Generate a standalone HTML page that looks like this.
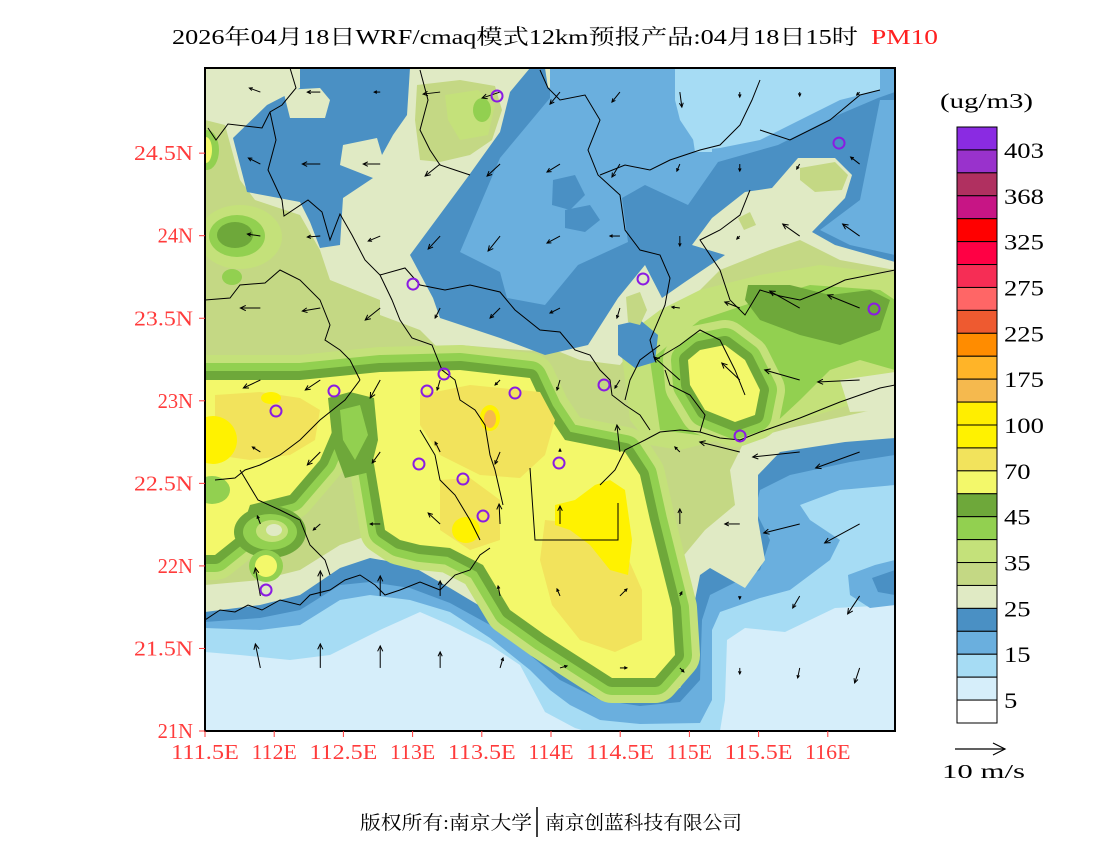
<!DOCTYPE html>
<html><head><meta charset="utf-8"><style>
html,body{margin:0;padding:0;background:#fff;}
svg{display:block;font-family:"Liberation Serif","Noto Serif CJK SC",serif;}
</style></head><body>
<svg id="chart" width="1100" height="850" viewBox="0 0 1100 850" xmlns="http://www.w3.org/2000/svg">
<defs><clipPath id="plotclip"><rect x="205" y="68" width="690" height="663"/></clipPath></defs>
<text x="172" y="44" font-size="21" textLength="686" lengthAdjust="spacingAndGlyphs" fill="#000">2026年04月18日WRF/cmaq模式12km预报产品:04月18日15时</text>
<text x="871" y="44" font-size="21" textLength="67" lengthAdjust="spacingAndGlyphs" fill="#ff2020">PM10</text>
<g id="map" clip-path="url(#plotclip)"></g>
<g id="overlay" clip-path="url(#plotclip)"></g>
<rect x="205" y="68" width="690" height="663" fill="none" stroke="#000" stroke-width="2"/>
<g id="axes"></g>
<g id="colorbar"></g>
<text x="940" y="108" font-size="21" textLength="93" lengthAdjust="spacingAndGlyphs">(ug/m3)</text>
<g>
<line x1="955" y1="749" x2="1005" y2="749" stroke="#000" stroke-width="1.2"/>
<polyline points="993,743 1005,749 993,755" fill="none" stroke="#000" stroke-width="1.2"/>
<text x="942" y="778" font-size="20" textLength="83" lengthAdjust="spacingAndGlyphs">10 m/s</text>
</g>
<text x="360" y="829" font-size="19" textLength="172" lengthAdjust="spacingAndGlyphs">版权所有:南京大学</text>
<line x1="537" y1="807" x2="537" y2="837" stroke="#000" stroke-width="1.5"/>
<text x="545" y="829" font-size="19" textLength="197" lengthAdjust="spacingAndGlyphs">南京创蓝科技有限公司</text>
</svg>
<script>
// ---- data ----
const cbLevels = ["", "403", "", "368", "", "325", "", "275", "", "225", "", "175", "", "100", "", "70", "", "45", "", "35", "", "25", "", "15", "", "5"];
const cbColors = ["#8a2be2","#9932cc","#b03060","#c71585","#ff0000","#ff0044","#f62d55","#ff6666","#ee5a30","#ff8c00","#ffb428","#f5b94e","#ffee00","#fff200","#f2e35c","#f3f86a","#6ea83a","#92d050","#c4e17a","#c4d884","#e0eac4","#4a90c4","#6aafde","#a6dcf4","#d6eefa","#ffffff"];
const lonTicks = [111.5,112,112.5,113,113.5,114,114.5,115,115.5,116];
const lonTickLabels = ["111.5E","112E","112.5E","113E","113.5E","114E","114.5E","115E","115.5E","116E"];
const latTicks = [21,21.5,22,22.5,23,23.5,24,24.5];
const latTickLabels = ["21N","21.5N","22N","22.5N","23N","23.5N","24N","24.5N"];
const stationLon = [113.610,116.081,113.003,114.665,116.334,112.432,112.013,113.104,113.227,113.740,114.383,113.046,113.364,114.058,113.509,111.941,115.366];
const stationLat = [24.846,24.561,23.707,23.738,23.556,23.059,22.938,23.059,23.162,23.047,23.096,22.617,22.526,22.623,22.302,21.854,22.787];
const windLon = [111.9,112.333,112.766,113.199,113.632,114.065,114.498,114.931,115.364,115.797,116.23];
const windLat = [24.87,24.434,23.998,23.562,23.126,22.69,22.254,21.818,21.382];
const windU = [
[-2.2,-2.6,-1.2,-3.4,-3.6,-2,-1.6,0.4,0,0,-0.6],
[-2.4,-3.6,-3.4,-3,-2.6,-2.6,-1.6,-0.6,0,-0.6,-1.8],
[-2.6,-2.6,-2.4,-2.4,-2.4,-2.6,-2,0,-0.6,-3.4,-3.4],
[-4,-3.6,-3,-1,-2,-2,-0.6,-1.6,-3,-6,-6.4],
[-3.4,-3,-2,-0.6,-1,-0.6,-1,-5.2,-3.6,-7,-8.4],
[-1.6,-2.6,-1.6,-1,-1,0,-0.6,-1,-8,-9.4,-8.8],
[-0.6,-1.4,-2,-2.4,-0.2,0,0,0,-3,-7.2,-7],
[-1,0,0,0,-0.4,-0.6,1.4,0.4,0,-1.4,-2.4],
[-1,0,0,0,0.6,1.4,1.4,0.8,0,-0.4,-1]];
const windV = [
[0.8,0,0,-0.4,-1.2,-2.4,-2,-3,-1,-0.8,-0.6],
[1.2,0,0,-2.4,-2.4,-1.6,-2.6,-1.4,-1.4,-1,1.4],
[0.4,-0.2,-1,-2.6,-3,-1.4,0,-2,-0.6,2.4,2.4],
[0,-0.6,-2.4,-2,-2,-1,-2,0.2,1.2,3.4,2.6],
[-1.6,-2,-3.6,-2,-1,-2,-1.6,4.6,3.4,2,-0.4],
[1,-2.6,-2.2,2,-2.4,0.6,5.4,1,2,-1,-3.2],
[1.6,-1.2,0,2.2,4,3.6,0,3,0,-1.8,-3.8],
[5.6,5,4,3,2,1.4,1.4,0.8,-0.6,-2.4,-3.6],
[4.8,4.8,4.4,3.2,2,0.4,0,-0.8,-1.2,-2,-3]];

// ---- axes functions ----
const X = lon => 205 + (lon - 111.5) * 138.4;
const Y = lat => 731 - (lat - 21) * 165.1;
const NS = "http://www.w3.org/2000/svg";
function mk(tag, attrs, parent){const e=document.createElementNS(NS,tag);for(const k in attrs)e.setAttribute(k,attrs[k]);parent.appendChild(e);return e;}

// ---- field (map geometry) ----
const map = document.getElementById('map');
function poly(pts, fill, name, extra){
  const e = mk('polygon', Object.assign({points: pts, fill: fill}, extra||{}), map);
  
  
  return e;
}
function above(line){return line + " 895,68 205,68";}
mk('rect',{x:205,y:68,width:690,height:663,fill:"#d6eefa"},map);
poly(above("205,652 240,655 290,660 330,655 380,630 420,612 450,625 490,645 520,665 545,712 575,728 585,731 720,731 725,700 727,640 745,628 785,632 835,608 895,605"),"#a6dcf4","sea-light-band");
poly(above("205,628 260,630 300,625 340,600 370,595 410,600 450,612 490,638 530,670 550,690 570,705 600,720 640,724 700,723 712,700 712,630 720,612 760,598 790,590 830,560 840,540 810,520 800,505 840,490 895,485"),"#6aafde","sea-mid-band");
poly("848,575 875,565 895,560 895,605 870,608 850,595","#6aafde","sea-mid-patch");
poly(above("205,622 260,618 300,610 340,585 370,582 410,588 450,603 490,625 530,655 560,680 600,700 640,706 680,702 700,680 702,620 710,595 740,580 760,570 770,540 755,510 760,490 790,475 850,462 895,455"),"#4a90c4","sea-dark-band");
poly("872,578 895,570 895,595 878,592","#4a90c4","sea-dark-patch");
poly(above("205,612 260,605 300,595 340,568 370,558 410,565 450,588 490,612 530,640 560,660 600,683 640,690 680,688 695,660 695,600 700,575 710,568 745,588 765,560 758,520 758,475 780,452 845,442 895,438"),"#e0eac4","land-pale");
// left and right light-green areas
poly("205,120 225,125 240,180 255,200 300,215 320,250 330,280 380,300 380,315 420,330 440,350 460,345 520,350 560,352 580,360 620,365 640,340 660,320 690,300 720,270 770,250 800,240 840,260 895,270 895,405 850,415 790,428 745,440 730,470 735,505 705,530 680,560 683,600 670,640 640,660 560,635 490,595 450,565 410,545 370,535 340,545 300,570 260,580 205,585","#c4d884","land-green-light");
poly("620,340 660,310 700,290 760,275 820,265 860,270 895,275 895,395 850,405 800,420 760,432 720,440 680,450 650,445 630,420","#c4e17a","east-green");
poly("650,360 700,320 760,300 810,285 880,290 895,300 895,370 860,360 830,370 800,400 770,428 720,438 660,430","#92d050","east-green-mid");
poly("748,285 790,285 830,295 870,290 890,300 880,330 840,345 800,335 760,320 745,300","#6ea83a","east-green-dark");
poly("840,380 895,372 895,410 850,412","#e0eac4","east-pale-patch");
// west blob
mk('ellipse',{cx:240,cy:237,rx:42,ry:32,fill:"#c4e17a"},map);
mk('ellipse',{cx:237,cy:236,rx:28,ry:21,fill:"#92d050"},map);
mk('ellipse',{cx:235,cy:235,rx:18,ry:13,fill:"#6ea83a"},map);
mk('ellipse',{cx:207,cy:150,rx:12,ry:20,fill:"#92d050"},map);
mk('ellipse',{cx:206,cy:150,rx:6,ry:13,fill:"#f3f86a"},map);
mk('ellipse',{cx:232,cy:277,rx:10,ry:8,fill:"#92d050"},map);
// yellow main region with green bands
const yellowPts = "205,380 300,380 380,372 460,370 530,378 545,410 565,440 600,447 625,452 640,475 650,520 660,560 672,608 675,655 655,678 612,678 545,635 510,610 483,565 450,548 420,545 400,540 385,530 380,500 375,470 370,440 355,420 335,425 320,460 290,495 250,505 240,535 215,555 205,555";
const yellowBlob = "700,350 725,345 745,360 760,390 755,415 735,422 705,410 690,385 688,360";
[[50,"#c4e17a"],[34,"#92d050"],[18,"#6ea83a"]].forEach(([w,c])=>{
  poly(yellowPts,c,"yellow-band-halo",{stroke:c,"stroke-width":w,"stroke-linejoin":"round"});
  poly(yellowBlob,c,"east-blob-halo",{stroke:c,"stroke-width":w,"stroke-linejoin":"round"});
});
poly(yellowPts,"#f3f86a","yellow-region");
poly(yellowBlob,"#f3f86a","east-yellow-blob");
// green intrusions inside yellow
poly("328,398 350,392 374,398 378,440 370,472 345,478 333,445","#6ea83a","green-intrusion");
poly("340,410 360,405 368,435 355,460 343,440","#92d050","green-intrusion-core");
mk('ellipse',{cx:270,cy:532,rx:36,ry:26,fill:"#6ea83a"},map);
mk('ellipse',{cx:270,cy:532,rx:27,ry:18,fill:"#92d050"},map);
mk('ellipse',{cx:272,cy:531,rx:16,ry:11,fill:"#c4e17a"},map);
mk('ellipse',{cx:274,cy:530,rx:8,ry:6,fill:"#e0eac4"},map);
mk('ellipse',{cx:266,cy:566,rx:17,ry:16,fill:"#92d050"},map);
mk('ellipse',{cx:266,cy:566,rx:11,ry:11,fill:"#f3f86a"},map);
mk('ellipse',{cx:212,cy:490,rx:18,ry:14,fill:"#92d050"},map);
// darker yellow
poly("215,395 260,392 300,398 320,410 315,440 290,455 250,460 215,455","#f2e35c","yellow-dark-west");
poly("420,395 470,385 540,392 555,420 545,455 520,478 480,475 440,455 420,425","#f2e35c","yellow-dark-center");
poly("545,520 590,525 620,540 642,590 642,640 615,652 580,640 552,605 540,560","#f2e35c","yellow-dark-tongue");
poly("440,480 470,478 500,500 500,540 470,550 440,530","#f2e35c","yellow-dark-south");
// bright yellow
mk('ellipse',{cx:213,cy:440,rx:24,ry:24,fill:"#fff200"},map);
poly("555,505 575,500 595,485 610,480 625,490 632,540 628,575 610,570 590,545 570,530 555,525","#fff200","yellow-bright-east");
mk('ellipse',{cx:466,cy:530,rx:14,ry:13,fill:"#fff200"},map);
mk('ellipse',{cx:271,cy:398,rx:10,ry:6,fill:"#fff200"},map);
mk('ellipse',{cx:490,cy:418,rx:13,ry:17,fill:"#f2e35c"},map);
mk('ellipse',{cx:490,cy:418,rx:10,ry:13,fill:"#fff200"},map);
mk('ellipse',{cx:490,cy:419,rx:6,ry:9,fill:"#f5b94e"},map);
// northern low-concentration areas
poly("227,68 300,68 300,88 267,105 233,138 247,192 300,202 310,222 320,248 340,245 343,198 373,178 340,165 343,145 377,138 382,155 393,135 407,115 410,68","#4a90c4","north-west-blue");
poly("283,90 320,88 330,100 325,118 290,118","#e0eac4","north-west-pale");
poly("530,68 895,68 895,262 835,245 812,232 845,198 852,175 835,158 798,158 772,188 745,192 712,218 692,245 725,255 685,282 662,298 645,265 618,298 588,345 545,355 500,338 440,318 433,298 410,255 467,178 500,132 510,92 520,80","#4a90c4","north-blue");
poly("545,68 570,68 568,85 548,88","#e0eac4","north-pale-corner");
poly("618,325 640,320 658,335 655,362 635,368 618,355","#4a90c4","north-blue-pond");
poly("550,68 895,68 895,92 878,98 838,115 778,145 718,162 688,205 645,185 622,198 628,242 578,265 545,305 507,298 500,272 460,252 500,158 550,98","#6aafde","north-mid-blue");
poly("880,100 895,100 895,255 850,245 820,230 860,200 870,150","#6aafde","north-east-mid-blue");
poly("553,180 575,175 585,195 570,210 552,205","#4a90c4","north-blue-spot");
poly("565,210 590,205 600,220 585,232 565,228","#4a90c4","north-blue-spot2");
poly("675,68 880,68 880,90 840,100 800,120 760,140 720,148 700,150 680,120 675,100","#a6dcf4","north-light-blue");
poly("692,132 712,130 712,152 695,152","#a6dcf4","north-light-blue-spot");
poly("417,85 460,80 495,86 502,110 492,140 470,155 440,162 420,160 415,120","#c4d884","north-green-island");
poly("445,95 478,90 495,105 488,135 460,140 448,120","#c4e17a","north-green-island-core");
mk('ellipse',{cx:482,cy:110,rx:9,ry:12,fill:"#92d050"},map);
poly("800,168 835,162 848,175 842,190 815,192 800,180","#c4d884","north-east-green-spot");
poly("738,218 750,212 756,225 744,230","#c4d884","north-green-spot");
poly("626,297 640,292 647,310 640,325 628,322","#c4d884","north-green-spot2");

// ---- borders (decorative geometry) ----
const overlay = document.getElementById('overlay');
const borders = [
"290,68 296,88 282,105 270,112 262,128 228,124 216,140 208,128",
"270,112 276,140 268,170 282,200 284,216 308,200 322,212 330,240 340,214 352,235 365,260 380,275 392,300 400,320 412,338 432,345 442,370 455,380 460,400 475,410 485,425 490,455 495,470 503,505",
"380,275 405,268 420,285 445,290 470,285 500,292 515,310 540,330 560,332 575,350 590,355 600,370 610,380 612,395 625,405 640,415 650,430",
"420,70 428,100 420,130 430,150 440,165 455,170 470,175",
"540,70 548,88 560,100 585,95 600,120 588,150 598,175 620,195 625,230 640,250 660,255 670,278 665,305 650,340 655,360 680,345 700,330 720,340 735,370 745,395",
"600,175 625,165 650,170 670,160 700,150 720,145 740,125 752,100 760,80",
"760,130 790,140 830,120 860,95 880,90",
"750,190 740,215 720,230 700,240 720,270 730,300 745,315 760,290 780,296 800,300 820,292 845,280 895,270",
"205,300 230,298 240,285 265,283 280,270 300,280 320,300 330,325 325,340 340,350 350,360 360,380",
"360,380 345,400 320,420 300,440 280,455 260,465 245,470 235,478 215,480",
"240,470 258,500 280,510 300,520 310,545 325,560 330,575",
"420,430 435,455 440,480 455,495 470,520 480,540",
"530,468 535,540 618,540 618,503",
"205,620 220,610 235,612 248,605 262,610 280,600 300,605 310,595 330,590 345,580 360,575 375,585 385,595 400,590 420,582 440,590 455,575 470,570 480,555 490,548",
"600,485 615,470 625,450 645,440 660,432 680,430 700,432 720,438 740,440 760,432 780,425 800,418 820,410 840,402 860,395 880,388 895,385",
"660,345 640,360 630,380 625,400",
"700,432 705,415 690,395 670,385 665,370"];
borders.forEach(p=>{
  const e = mk('polyline',{points:p,fill:"none",stroke:"#000","stroke-width":1},overlay);
  
  
});

// ---- wind arrows ----
for(let j=0;j<windLat.length;j++){
  for(let i=0;i<windLon.length;i++){
    const u=windU[j][i], v=windV[j][i];
    const x0=X(windLon[i]), y0=Y(windLat[j]);
    const x1=x0+u*5, y1=y0-v*5;
    const len=Math.hypot(x1-x0,y1-y0);
    if(len<1) continue;
    const g=mk('g',{},overlay);
    
    
    mk('line',{x1:x0,y1:y0,x2:x1,y2:y1,stroke:"#000","stroke-width":1},g);
    const a=Math.atan2(y1-y0,x1-x0), h=Math.min(6,Math.max(3,len*0.3));
    const p1=[x1-h*Math.cos(a-0.45),y1-h*Math.sin(a-0.45)], p2=[x1-h*Math.cos(a+0.45),y1-h*Math.sin(a+0.45)];
    mk('polyline',{points:`${p1[0]},${p1[1]} ${x1},${y1} ${p2[0]},${p2[1]}`,fill:"none",stroke:"#000","stroke-width":1},g);
  }
}
// ---- stations ----
stationLon.forEach((lon,k)=>{
  const c = mk('circle',{cx:X(lon),cy:Y(stationLat[k]),r:5.5,fill:"none",stroke:"#8a1be2","stroke-width":2},overlay);
  
  
});

// ---- axes ----
const axes = document.getElementById('axes');
lonTicks.forEach((lon,k)=>{
  const x=X(lon);
  mk('line',{x1:x,y1:731,x2:x,y2:737,stroke:"#ff3b3b","stroke-width":1},axes);
  const lab=lonTickLabels[k];
  const t=mk('text',{x:x,y:759,"font-size":21,"text-anchor":"middle",fill:"#ff3b3b",textLength:lab.length*11.3,lengthAdjust:"spacingAndGlyphs"},axes);
  t.textContent=lab;
  
  
});
latTicks.forEach((lat,k)=>{
  const y=Y(lat);
  mk('line',{x1:199,y1:y,x2:205,y2:y,stroke:"#ff3b3b","stroke-width":1},axes);
  const lab=latTickLabels[k];
  const t=mk('text',{x:193,y:y+7,"font-size":21,"text-anchor":"end",fill:"#ff3b3b",textLength:lab.length*11.8,lengthAdjust:"spacingAndGlyphs"},axes);
  t.textContent=lab;
  
  
});

// ---- colorbar ----
const cb = document.getElementById('colorbar');
const cbTop=127, cbH=596/cbColors.length;
cbColors.forEach((c,k)=>{
  const r=mk('rect',{x:957,y:cbTop+k*cbH,width:40,height:cbH,fill:c,stroke:"#000","stroke-width":1},cb);
  
  
});
cbLevels.forEach((lab,k)=>{
  if(!lab) return;
  const t=mk('text',{x:1004,y:cbTop+k*cbH+8,"font-size":22,fill:"#000",textLength:lab.length*13.3,lengthAdjust:"spacingAndGlyphs"},cb);
  t.textContent=lab;
  
  
});
</script>
</body></html>
